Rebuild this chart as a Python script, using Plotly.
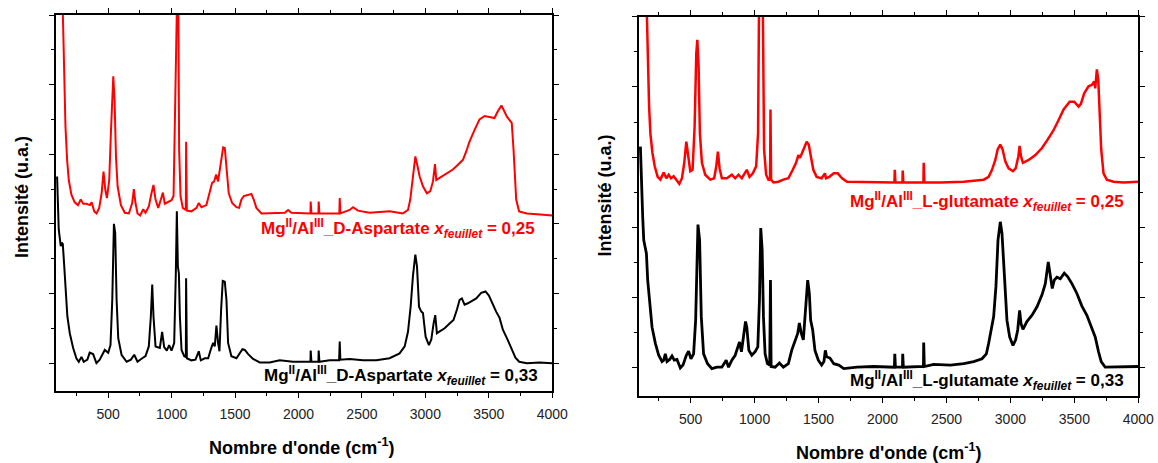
import plotly.graph_objects as go

# ---------------- data ----------------
# Left panel, black: Mg/Al_D-Aspartate x=0,33
asp033_x = [97, 110, 118, 126, 134, 142, 150, 163, 178, 197, 223, 249, 268, 289, 307, 336, 354, 381, 407, 433,
            473, 500, 518, 532, 545, 555, 566, 579, 605, 645, 679, 705, 731, 768, 794, 820, 836, 847, 857, 873,
            907, 925, 941, 962, 980, 999, 1020, 1033, 1041, 1049, 1057, 1065, 1078, 1099, 1112, 1114, 1120, 1156,
            1188, 1214, 1230, 1261, 1288, 1309, 1327, 1340, 1353, 1366, 1377, 1390, 1403, 1419, 1432, 1445, 1471,
            1511, 1537, 1558, 1577, 1603, 1642, 1695, 1773, 1852, 1957, 2094, 2096, 2102, 2157, 2159, 2165, 2246,
            2320, 2325, 2330, 2403, 2508, 2613, 2718, 2797, 2837, 2863, 2884, 2902, 2921, 2934, 2950, 2968, 2981,
            3002, 3028, 3047, 3065, 3078, 3091, 3112, 3152, 3191, 3222, 3249, 3270, 3288, 3309, 3335, 3362, 3401,
            3440, 3474, 3501, 3532, 3558, 3585, 3611, 3650, 3680, 3710, 3740, 3800, 3900, 4000]
asp033_y = [2.68, 1.92, 1.80, 1.68, 1.73, 1.71, 1.49, 1.05, 0.67, 0.43, 0.22, 0.07, 0.02, 0.09, 0.02, 0.05, 0.15,
            0.13, 0.00, 0.05, 0.19, 0.15, 0.26, 0.91, 2.00, 1.87, 0.91, 0.36, 0.12, 0.02, 0.05, 0.12, 0.02, 0.07,
            0.10, 0.24, 0.67, 1.13, 0.67, 0.24, 0.22, 0.45, 0.23, 0.18, 0.26, 0.18, 0.29, 1.29, 2.18, 1.39, 1.29,
            0.67, 0.19, 0.10, 0.09, 1.22, 0.07, 0.04, 0.05, 0.17, 0.04, 0.07, 0.07, 0.20, 0.29, 0.24, 0.54, 0.29,
            0.17, 0.77, 1.18, 1.17, 0.91, 0.29, 0.10, 0.07, 0.14, 0.20, 0.19, 0.13, 0.06, 0.01, 0.01, 0.04, 0.02,
            0.02, 0.18, 0.02, 0.02, 0.18, 0.02, 0.04, 0.04, 0.31, 0.05, 0.06, 0.04, 0.04, 0.07, 0.14, 0.24, 0.45,
            0.81, 1.25, 1.56, 1.39, 0.81, 0.74, 0.72, 0.38, 0.26, 0.34, 0.57, 0.69, 0.43, 0.45, 0.50, 0.57, 0.62,
            0.77, 0.91, 0.93, 0.84, 0.86, 0.89, 0.93, 1.01, 1.03, 0.97, 0.84, 0.74, 0.65, 0.48, 0.33, 0.20, 0.08,
            0.02, 0.00, 0.01, 0.00]

# Left panel, red: Mg/Al_D-Aspartate x=0,25
asp025_x = [135, 152, 163, 176, 189, 210, 236, 262, 283, 303, 329, 356, 369, 390, 408, 429, 448, 463, 477, 490,
            508, 521, 540, 550, 561, 574, 600, 631, 663, 689, 702, 715, 731, 752, 776, 794, 820, 841, 857, 873,
            894, 915, 931, 946, 973, 999, 1015, 1025, 1034, 1050, 1059, 1070, 1088, 1112, 1114, 1120, 1156, 1196,
            1214, 1235, 1274, 1301, 1319, 1335, 1351, 1366, 1387, 1406, 1419, 1435, 1450, 1477, 1511, 1532, 1550,
            1569, 1603, 1629, 1647, 1668, 1708, 1800, 1892, 1918, 1944, 2094, 2096, 2102, 2157, 2159, 2165, 2322,
            2325, 2330, 2403, 2430, 2469, 2561, 2718, 2823, 2863, 2881, 2902, 2921, 2936, 2955, 2981, 3012, 3039,
            3060, 3076, 3086, 3112, 3165, 3217, 3257, 3296, 3322, 3348, 3388, 3427, 3467, 3506, 3545, 3572, 3600,
            3643, 3681, 3695, 3716, 3739, 3800, 3880, 3950, 4000]
asp025_y = [5.60, 4.02, 3.40, 2.92, 2.63, 2.42, 2.31, 2.27, 2.35, 2.29, 2.29, 2.27, 2.31, 2.18, 2.15, 2.23, 2.44,
            2.75, 2.49, 2.37, 2.63, 3.30, 4.12, 3.78, 2.97, 2.54, 2.27, 2.16, 2.15, 2.30, 2.50, 2.30, 2.15, 2.12,
            2.21, 2.16, 2.25, 2.44, 2.56, 2.35, 2.23, 2.35, 2.45, 2.29, 2.31, 2.34, 2.40, 3.78, 6.00, 6.00, 3.07,
            2.40, 2.23, 2.20, 3.18, 2.19, 2.18, 2.23, 2.30, 2.24, 2.27, 2.44, 2.59, 2.61, 2.71, 2.61, 2.87, 3.10,
            3.09, 2.73, 2.44, 2.30, 2.24, 2.23, 2.35, 2.40, 2.42, 2.43, 2.35, 2.23, 2.15, 2.15, 2.16, 2.20, 2.16,
            2.15, 2.32, 2.15, 2.15, 2.32, 2.15, 2.15, 2.37, 2.15, 2.20, 2.24, 2.19, 2.16, 2.18, 2.15, 2.20, 2.35,
            2.68, 2.97, 2.85, 2.68, 2.54, 2.44, 2.47, 2.61, 2.86, 2.63, 2.66, 2.72, 2.78, 2.85, 2.92, 3.04, 3.18,
            3.35, 3.50, 3.55, 3.54, 3.52, 3.62, 3.70, 3.54, 3.45, 3.07, 2.35, 2.18, 2.15, 2.14, 2.13, 2.12]

# Right panel, black: Mg/Al_L-glutamate x=0,33
glu033_x = [107, 115, 125, 133, 143, 154, 164, 180, 198, 224, 250, 276, 289, 302, 315, 336, 354, 372, 393, 419,
            440, 466, 484, 502, 523, 539, 557, 570, 583, 601, 632, 666, 705, 744, 778, 796, 822, 848, 866, 882,
            897, 913, 929, 939, 955, 978, 1004, 1025, 1038, 1048, 1059, 1069, 1082, 1100, 1118, 1124, 1129, 1160,
            1194, 1225, 1264, 1290, 1308, 1324, 1337, 1350, 1365, 1381, 1397, 1415, 1428, 1438, 1454, 1472, 1498,
            1524, 1542, 1553, 1563, 1589, 1619, 1658, 1697, 1801, 1932, 2093, 2096, 2101, 2156, 2158, 2163, 2320,
            2322, 2327, 2400, 2531, 2635, 2713, 2778, 2812, 2830, 2848, 2869, 2887, 2903, 2921, 2934, 2952, 2973,
            2994, 3020, 3041, 3057, 3072, 3083, 3098, 3129, 3169, 3208, 3247, 3273, 3296, 3312, 3327, 3343, 3364,
            3390, 3421, 3447, 3481, 3520, 3559, 3598, 3629, 3663, 3689, 3710, 3741, 3833, 4000]
glu033_y = [3.15, 2.53, 2.15, 1.82, 1.73, 1.63, 1.25, 0.87, 0.58, 0.35, 0.18, 0.09, 0.11, 0.20, 0.09, 0.12, 0.17,
            0.11, 0.12, 0.00, 0.04, 0.18, 0.24, 0.13, 0.20, 0.68, 2.04, 1.82, 0.73, 0.20, 0.06, -0.01, 0.01, 0.01,
            0.11, 0.01, 0.11, 0.18, 0.30, 0.37, 0.23, 0.44, 0.66, 0.58, 0.25, 0.18, 0.23, 0.30, 0.97, 1.99, 1.68,
            0.73, 0.20, 0.06, 0.04, 1.25, 0.02, 0.01, 0.07, 0.01, 0.06, 0.25, 0.35, 0.42, 0.49, 0.64, 0.49, 0.40,
            0.87, 1.25, 1.06, 0.68, 0.54, 0.25, 0.11, 0.04, 0.09, 0.25, 0.16, 0.14, 0.06, 0.04, -0.01, 0.01, 0.02,
            0.01, 0.20, 0.01, 0.01, 0.20, 0.01, 0.02, 0.36, 0.02, 0.05, 0.04, 0.06, 0.09, 0.13, 0.20, 0.35, 0.54,
            0.73, 1.16, 1.82, 2.08, 1.92, 1.35, 0.68, 0.44, 0.32, 0.40, 0.54, 0.82, 0.63, 0.55, 0.66, 0.75, 0.87,
            1.04, 1.20, 1.51, 1.30, 1.13, 1.25, 1.29, 1.27, 1.35, 1.30, 1.20, 1.06, 0.88, 0.75, 0.61, 0.44, 0.23,
            0.09, 0.01, 0.01, 0.02]

# Right panel, red: Mg/Al_L-glutamate x=0,25
glu025_x = [150, 164, 175, 185, 201, 219, 242, 263, 289, 310, 328, 346, 367, 388, 411, 432, 450, 466, 479, 497,
            515, 531, 544, 552, 562, 572, 588, 614, 653, 684, 700, 713, 726, 744, 783, 822, 848, 874, 900, 921,
            939, 960, 986, 1012, 1027, 1038, 1060, 1074, 1090, 1108, 1121, 1124, 1129, 1147, 1186, 1225, 1264,
            1298, 1324, 1342, 1355, 1371, 1386, 1407, 1423, 1438, 1459, 1485, 1524, 1550, 1558, 1584, 1619, 1650,
            1684, 1723, 1853, 2093, 2096, 2101, 2156, 2158, 2163, 2320, 2322, 2327, 2452, 2635, 2791, 2830, 2856,
            2882, 2900, 2921, 2939, 2960, 2986, 3020, 3041, 3062, 3072, 3083, 3098, 3143, 3195, 3247, 3291, 3333,
            3377, 3416, 3463, 3499, 3533, 3551, 3577, 3611, 3637, 3655, 3663, 3676, 3687, 3697, 3710, 3728, 3754,
            3806, 3885, 4000]
glu025_y = [5.60, 4.29, 3.72, 3.34, 3.06, 2.87, 2.72, 2.68, 2.78, 2.70, 2.75, 2.70, 2.73, 2.68, 2.62, 2.70, 2.92,
            3.22, 3.01, 2.80, 2.82, 3.44, 4.48, 4.67, 4.29, 3.34, 2.92, 2.75, 2.68, 2.70, 2.87, 3.08, 2.84, 2.70,
            2.70, 2.75, 2.70, 2.75, 2.70, 2.76, 2.82, 2.72, 2.77, 2.87, 3.34, 6.00, 6.00, 3.11, 2.75, 2.68, 2.68,
            3.68, 2.68, 2.64, 2.65, 2.68, 2.70, 2.82, 2.92, 3.03, 2.99, 3.06, 3.13, 3.22, 3.18, 3.01, 2.82, 2.72,
            2.70, 2.77, 2.70, 2.72, 2.77, 2.77, 2.70, 2.65, 2.65, 2.64, 2.82, 2.64, 2.64, 2.81, 2.64, 2.64, 2.92,
            2.64, 2.64, 2.65, 2.68, 2.72, 2.82, 2.96, 3.11, 3.18, 3.11, 2.94, 2.84, 2.80, 2.84, 3.01, 3.16, 3.01,
            2.92, 2.96, 3.03, 3.13, 3.25, 3.37, 3.53, 3.68, 3.79, 3.79, 3.72, 3.76, 3.91, 4.01, 4.03, 4.08, 3.98,
            4.25, 4.10, 3.58, 3.11, 2.77, 2.68, 2.65, 2.64, 2.65]

x_ticks = [500, 1000, 1500, 2000, 2500, 3000, 3500, 4000]

label_asp_025 = "Mg<sup>II</sup>/Al<sup>III</sup>_D-Aspartate <i>x</i><sub><i>feuillet</i></sub> = 0,25"
label_asp_033 = "Mg<sup>II</sup>/Al<sup>III</sup>_D-Aspartate <i>x</i><sub><i>feuillet</i></sub> = 0,33"
label_glu_025 = "Mg<sup>II</sup>/Al<sup>III</sup>_L-glutamate <i>x</i><sub><i>feuillet</i></sub> = 0,25"
label_glu_033 = "Mg<sup>II</sup>/Al<sup>III</sup>_L-glutamate <i>x</i><sub><i>feuillet</i></sub> = 0,33"
x_title = "Nombre d'onde (cm<sup>-1</sup>)"
y_title = "Intensité (u.a.)"

# ---------------- figure ----------------
W, H = 1158, 463
W_EFF = 1143  # horizontal extent the page actually gives the plot
FONT = "Arial, Liberation Sans, sans-serif"
RED = "#ff0000"

fig = go.Figure()
fig.add_trace(go.Scatter(x=asp033_x, y=asp033_y, mode="lines", line=dict(color="black", width=2),
                         xaxis="x", yaxis="y", showlegend=False, hoverinfo="skip"))
fig.add_trace(go.Scatter(x=asp025_x, y=asp025_y, mode="lines", line=dict(color=RED, width=2),
                         xaxis="x", yaxis="y", showlegend=False, hoverinfo="skip"))
fig.add_trace(go.Scatter(x=glu033_x, y=glu033_y, mode="lines", line=dict(color="black", width=2.8),
                         xaxis="x2", yaxis="y2", showlegend=False, hoverinfo="skip"))
fig.add_trace(go.Scatter(x=glu025_x, y=glu025_y, mode="lines", line=dict(color=RED, width=2.5),
                         xaxis="x2", yaxis="y2", showlegend=False, hoverinfo="skip"))


def px_x(p):
    return min(p / W_EFF, 1.0)


def px_y(p):
    return (H - p) / H


def xaxis_cfg(rng, dom, anchor):
    return dict(range=rng, domain=dom, anchor=anchor, tickmode="array", tickvals=x_ticks,
                ticks="outside", ticklen=5, tickwidth=1.2, tickcolor="black",
                minor=dict(dtick=250, tick0=0, ticks="outside", ticklen=3, tickwidth=1.2, tickcolor="black"),
                showline=True, linecolor="black", linewidth=1.5, mirror="allticks",
                showgrid=False, zeroline=False, ticklabelstandoff=4,
                tickfont=dict(family=FONT, size=14, color="#222222"))


def yaxis_cfg(dom, anchor):
    return dict(range=[-0.4, 5.0], domain=dom, anchor=anchor, tickmode="linear", tick0=0, dtick=1,
                ticks="outside", ticklen=5, tickwidth=1.2, tickcolor="black", showticklabels=False,
                minor=dict(dtick=0.5, tick0=0, ticks="outside", ticklen=3, tickwidth=1.2, tickcolor="black"),
                showline=True, linecolor="black", linewidth=1.5, mirror="allticks",
                showgrid=False, zeroline=False)


fig.update_layout(
    width=W, height=H, margin=dict(l=0, r=0, t=0, b=0),
    paper_bgcolor="white", plot_bgcolor="white",
    xaxis=xaxis_cfg([88, 4000], [px_x(56), px_x(552.7)], "y"),
    yaxis=yaxis_cfg([px_y(391), px_y(15)], "x"),
    xaxis2=xaxis_cfg([94, 4000], [px_x(639.3), px_x(1139.3)], "y2"),
    yaxis2=yaxis_cfg([px_y(396), px_y(16.7)], "x2"),
)

ann = []
common = dict(xref="paper", yref="paper", showarrow=False)
# axis titles
ann.append(dict(x=px_x(22), y=px_y(197), text="<b>%s</b>" % y_title, textangle=-90,
                font=dict(family=FONT, size=18, color="black"), xanchor="center", yanchor="middle", **common))
ann.append(dict(x=px_x(606), y=px_y(195), text="<b>%s</b>" % y_title, textangle=-90,
                font=dict(family=FONT, size=18, color="black"), xanchor="center", yanchor="middle", **common))
ann.append(dict(x=px_x(302), y=px_y(446), text="<b>%s</b>" % x_title,
                font=dict(family=FONT, size=18, color="black"), xanchor="center", yanchor="middle", **common))
ann.append(dict(x=px_x(889.5), y=px_y(451), text="<b>%s</b>" % x_title,
                font=dict(family=FONT, size=18, color="black"), xanchor="center", yanchor="middle", **common))
# series labels
ann.append(dict(x=px_x(537), y=px_y(228), text="<b>%s</b>" % label_asp_025,
                font=dict(family=FONT, size=17, color=RED), xanchor="right", yanchor="middle", **common))
ann.append(dict(x=px_x(540), y=px_y(375), text="<b>%s</b>" % label_asp_033,
                font=dict(family=FONT, size=17, color="black"), xanchor="right", yanchor="middle", **common))
ann.append(dict(x=px_x(1127), y=px_y(201), text="<b>%s</b>" % label_glu_025,
                font=dict(family=FONT, size=17, color=RED), xanchor="right", yanchor="middle", **common))
ann.append(dict(x=px_x(1127), y=px_y(380.5), text="<b>%s</b>" % label_glu_033,
                font=dict(family=FONT, size=17, color="black"), xanchor="right", yanchor="middle", **common))
fig.update_layout(annotations=ann)

fig.write_html(
    "out.html",
    config={"displayModeBar": False},
    post_script=(
        "document.body.style.margin='0';document.body.style.padding='0';"
        "document.body.style.overflow='hidden';"
    ),
)
